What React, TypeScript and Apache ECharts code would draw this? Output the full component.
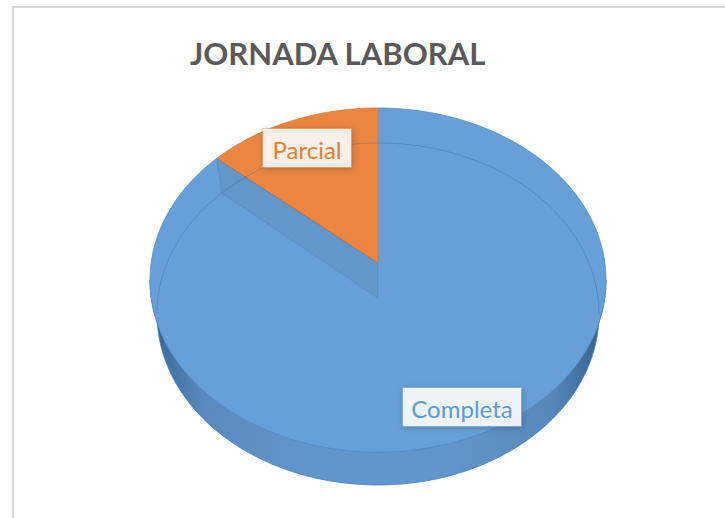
import React, { useEffect, useRef } from "react";
import * as echarts from "echarts";

// ---- data ----
const categories: string[] = ["Completa", "Parcial"];
const values: number[] = [35, 5];
const titleText = "JORNADA LABORAL";

// ---- styling / layout (not data) ----
const topColors = ["#67a0d8", "#eb8541"];
const strokeColors = ["#4f8bc8", "#de7a36"];
const labelColors = ["#5b9bd5", "#ed7d31"];
const labelBg = ["rgba(255,255,255,0.88)", "rgba(255,255,255,0.88)"];
const labelStroke = ["rgba(91,155,213,0.55)", "rgba(237,125,49,0.45)"];
const labelCenters: [number, number][] = [
  [462, 407],
  [307, 148],
];
const labelSizes: [number, number][] = [
  [119, 39],
  [89, 39],
];

const CX = 378;
const CY = 280;
const RX = 228;
const RY = 172;
const APEX_Y = 263;
const DEPTH = 34;
const CX_B = 378;
const CY_B = CY + DEPTH;
const RX_B = 221;
const RY_B = 171;

function arc(a0: number, a1: number, cx: number, cy: number, rx: number, ry: number) {
  const pts: number[][] = [];
  const n = Math.max(2, Math.ceil((Math.abs(a1 - a0) * 180) / Math.PI));
  for (let k = 0; k <= n; k++) {
    const t = a0 + ((a1 - a0) * k) / n;
    pts.push([cx + rx * Math.sin(t), cy - ry * Math.cos(t)]);
  }
  return pts;
}

export default function App() {
  const ref = useRef<HTMLDivElement>(null);
  useEffect(() => {
    if (!ref.current) return;
    const chart = echarts.init(ref.current, undefined, { renderer: "svg" });
    const total = values.reduce((a, b) => a + b, 0);

    const renderItem = (params: any, api: any) => {
      const i = params.dataIndex;
      let cum = 0;
      for (let k = 0; k < i; k++) cum += values[k];
      const v = api.value(0);
      const a0 = (cum / total) * 2 * Math.PI;
      const a1 = ((cum + v) / total) * 2 * Math.PI;
      const children: any[] = [];

      // front side wall
      const s0 = Math.max(a0, Math.PI / 2);
      const s1 = Math.min(a1, (3 * Math.PI) / 2);
      if (s1 > s0) {
        const pts = [
          ...arc(s0, s1, CX, CY, RX, RY),
          ...arc(s1, s0, CX_B, CY_B, RX_B, RY_B),
        ];
        const fill =
          i === 0
            ? new echarts.graphic.LinearGradient(0, 0, 1, 0, [
                { offset: 0, color: "#2c5379" },
                { offset: 0.03, color: "#3f6e9e" },
                { offset: 0.12, color: "#5a8abf" },
                { offset: 0.35, color: "#6196cc" },
                { offset: 0.65, color: "#6196cc" },
                { offset: 0.88, color: "#5788bb" },
                { offset: 0.97, color: "#3c6895" },
                { offset: 1, color: "#2c5379" },
              ])
            : "#c9692a";
        children.push({
          type: "polygon",
          shape: { points: pts },
          style: { fill, stroke: "#4a80ba", lineWidth: 0.8 },
          z2: 1,
        });
      }

      // top face
      children.push({
        type: "polygon",
        shape: { points: [[CX, APEX_Y], ...arc(a0, a1, CX, CY, RX, RY)] },
        style: { fill: topColors[i], stroke: strokeColors[i], lineWidth: 0.8 },
        z2: 2,
      });

      if (i === 0) {
        // back rim of the bottom face, seen through the translucent top
        children.push({
          type: "polyline",
          shape: { points: arc(-Math.PI / 2, Math.PI / 2, CX_B, CY_B, RX_B, RY_B) },
          style: { fill: "none", stroke: "rgba(40,85,140,0.3)", lineWidth: 1 },
          z2: 5,
        });
        // hidden radial wall at the end of this slice
        const pTop = arc(a1, a1, CX, CY, RX, RY)[0];
        const pBot = arc(a1, a1, CX_B, CY_B, RX_B, RY_B)[0];
        children.push({
          type: "polygon",
          shape: {
            points: [pTop, [CX, APEX_Y], [CX, APEX_Y + DEPTH + 1], pBot],
          },
          style: { fill: "rgba(80,105,140,0.17)", stroke: "rgba(60,100,150,0.3)", lineWidth: 0.8 },
          z2: 6,
        });
      }

      // label
      const [lx, ly] = labelCenters[i];
      const [lw, lh] = labelSizes[i];
      children.push({
        type: "rect",
        shape: { x: lx - lw / 2, y: ly - lh / 2, width: lw, height: lh },
        style: {
          fill: labelBg[i],
          stroke: labelStroke[i],
          lineWidth: 1,
          shadowBlur: 6,
          shadowColor: "rgba(0,0,0,0.25)",
          shadowOffsetX: 1,
          shadowOffsetY: 1,
        },
        z2: 10,
      });
      children.push({
        type: "text",
        style: {
          text: categories[i],
          x: lx,
          y: ly + 1,
          fill: labelColors[i],
          font: "24px Lato",
          align: "center",
          verticalAlign: "middle",
          textAlign: "center",
          textVerticalAlign: "middle",
        },
        z2: 11,
      });

      return { type: "group", children };
    };

    chart.setOption({
      animation: false,
      backgroundColor: "#ffffff",
      title: {
        text: titleText,
        left: 185,
        top: 32,
        textStyle: {
          fontFamily: "Lato",
          fontWeight: "bold",
          fontSize: 31,
          color: "#595959",
        },
      },
      graphic: [
        {
          type: "rect",
          shape: { x: 13, y: 7, width: 800, height: 600 },
          style: { fill: "none", stroke: "#dadada", lineWidth: 2 },
          silent: true,
        },
      ],
      series: [
        {
          type: "custom",
          coordinateSystem: "none",
          renderItem,
          data: values.map((v, i) => ({ name: categories[i], value: [v] })),
        },
      ],
    });
    return () => chart.dispose();
  }, []);
  return (
    <div
      ref={ref}
      style={{ position: "fixed", left: 0, top: 0, width: 725, height: 518 }}
    />
  );
}
